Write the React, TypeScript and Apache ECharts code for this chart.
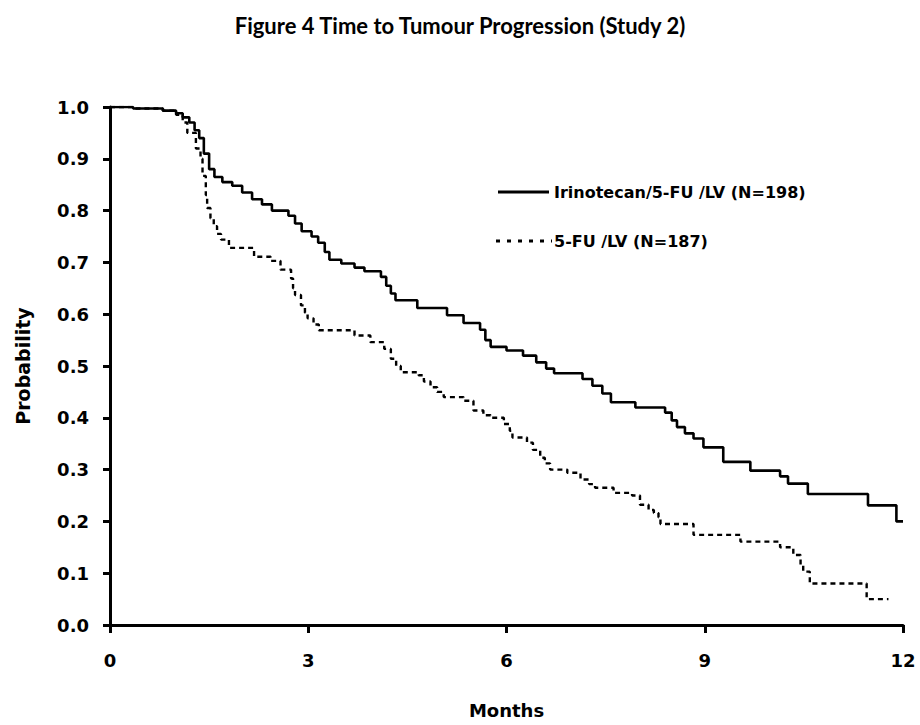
import React, { useEffect, useRef } from "react";
import * as echarts from "echarts";

const TITLE = "Figure 4 Time to Tumour Progression (Study 2)";
const X_NAME = "Months";
const Y_NAME = "Probability";
const SERIES_NAMES = ["Irinotecan/5-FU /LV (N=198)", "5-FU /LV (N=187)"];
const X_TICKS = [0, 3, 6, 9, 12];

// Kaplan-Meier step points [month, probability]
const irinotecan: [number, number][] = [
  [0, 1.0], [0.35, 0.997], [0.8, 0.993], [1.0, 0.988], [1.1, 0.98], [1.2, 0.97],
  [1.28, 0.955], [1.35, 0.94], [1.42, 0.91], [1.5, 0.88], [1.58, 0.865], [1.7, 0.855],
  [1.85, 0.848], [2.0, 0.835], [2.15, 0.822], [2.3, 0.812], [2.45, 0.8], [2.7, 0.79],
  [2.8, 0.775], [2.9, 0.76], [3.05, 0.75], [3.15, 0.738], [3.25, 0.72], [3.32, 0.705],
  [3.5, 0.698], [3.7, 0.69], [3.85, 0.683], [4.1, 0.672], [4.18, 0.655], [4.25, 0.64],
  [4.32, 0.627], [4.65, 0.612], [5.1, 0.598], [5.35, 0.583], [5.6, 0.57], [5.68, 0.55],
  [5.76, 0.537], [6.0, 0.53], [6.25, 0.52], [6.45, 0.507], [6.6, 0.495], [6.72, 0.486],
  [7.15, 0.475], [7.3, 0.462], [7.45, 0.447], [7.58, 0.43], [7.95, 0.42], [8.4, 0.41],
  [8.5, 0.395], [8.58, 0.382], [8.7, 0.37], [8.83, 0.36], [8.98, 0.343], [9.28, 0.315],
  [9.69, 0.298], [10.14, 0.287], [10.26, 0.273], [10.56, 0.253], [11.47, 0.231],
  [11.9, 0.2], [12.0, 0.2],
];

const fuLv: [number, number][] = [
  [0, 1.0], [0.35, 0.997], [0.8, 0.993], [1.0, 0.985], [1.1, 0.97], [1.17, 0.95],
  [1.3, 0.92], [1.37, 0.9], [1.4, 0.867], [1.45, 0.83], [1.47, 0.805], [1.52, 0.785],
  [1.57, 0.77], [1.62, 0.755], [1.68, 0.744], [1.8, 0.728], [2.18, 0.711], [2.43, 0.703],
  [2.58, 0.686], [2.74, 0.669], [2.77, 0.65], [2.8, 0.637], [2.89, 0.617], [2.95, 0.603],
  [2.99, 0.592], [3.08, 0.58], [3.16, 0.569], [3.7, 0.559], [3.94, 0.546], [4.15, 0.533],
  [4.25, 0.514], [4.33, 0.5], [4.4, 0.488], [4.67, 0.482], [4.75, 0.47], [4.85, 0.459],
  [4.95, 0.45], [5.05, 0.44], [5.35, 0.433], [5.5, 0.414], [5.65, 0.405], [5.76, 0.4],
  [5.96, 0.388], [6.05, 0.375], [6.09, 0.362], [6.31, 0.352], [6.4, 0.338], [6.51, 0.323],
  [6.58, 0.312], [6.66, 0.3], [6.92, 0.294], [7.12, 0.281], [7.25, 0.272], [7.34, 0.265],
  [7.62, 0.255], [7.9, 0.25], [8.02, 0.232], [8.15, 0.222], [8.23, 0.216], [8.3, 0.208],
  [8.33, 0.195], [8.83, 0.174], [9.54, 0.161], [10.14, 0.15], [10.34, 0.135],
  [10.45, 0.115], [10.49, 0.103], [10.59, 0.08], [11.45, 0.05], [11.78, 0.05],
];

const AXIS_FONT = "'DejaVu Sans', sans-serif";

export default function App() {
  const ref = useRef<HTMLDivElement>(null);

  useEffect(() => {
    if (!ref.current) return;
    const chart = echarts.init(ref.current, null, { renderer: "svg" });
    const axisLine = { show: true, lineStyle: { color: "#000", width: 3 } };
    chart.setOption({
      animation: false,
      backgroundColor: "#fff",
      title: {
        text: TITLE,
        left: "center",
        top: 9,
        textStyle: {
          fontFamily: "Lato, 'Open Sans', sans-serif",
          fontWeight: "bold",
          fontSize: 22,
          color: "#000",
        },
      },
      grid: { left: 110, right: 17, top: 107, bottom: 100, containLabel: false },
      xAxis: {
        type: "value",
        min: 0,
        max: 12,
        interval: 3,
        name: X_NAME,
        nameLocation: "middle",
        nameGap: 76,
        nameTextStyle: { fontFamily: AXIS_FONT, fontWeight: "bold", fontSize: 18, color: "#000" },
        axisLine,
        axisTick: { show: true, length: 8, lineStyle: { color: "#000", width: 3 } },
        axisLabel: {
          margin: 26,
          fontFamily: AXIS_FONT,
          fontWeight: "bold",
          fontSize: 18,
          color: "#000",
          formatter: (v: number) => (X_TICKS.includes(v) ? String(v) : ""),
        },
        splitLine: { show: false },
      },
      yAxis: {
        type: "value",
        min: 0,
        max: 1,
        interval: 0.1,
        name: Y_NAME,
        nameLocation: "middle",
        nameGap: 78,
        nameRotate: 90,
        nameTextStyle: { fontFamily: AXIS_FONT, fontWeight: "bold", fontSize: 19, color: "#000" },
        axisLine,
        axisTick: { show: true, length: 7, lineStyle: { color: "#000", width: 3 } },
        axisLabel: {
          margin: 21,
          fontFamily: AXIS_FONT,
          fontWeight: "bold",
          fontSize: 18,
          color: "#000",
          formatter: (v: number) => v.toFixed(1),
        },
        splitLine: { show: false },
      },
      series: [
        {
          name: SERIES_NAMES[0],
          type: "line",
          step: "end",
          data: irinotecan,
          symbol: "none",
          lineStyle: { color: "#000", width: 2.6 },
        },
        {
          name: SERIES_NAMES[1],
          type: "line",
          step: "end",
          data: fuLv,
          symbol: "none",
          lineStyle: { color: "#000", width: 2.4, type: [5, 4] },
        },
      ],
      graphic: [
        {
          type: "line",
          shape: { x1: 498, y1: 192, x2: 549, y2: 192 },
          style: { stroke: "#000", lineWidth: 3 },
        },
        {
          type: "text",
          x: 554,
          y: 192,
          style: {
            text: SERIES_NAMES[0],
            fontFamily: AXIS_FONT,
            fontWeight: "bold",
            fontSize: 16,
            fill: "#000",
            verticalAlign: "middle",
          },
        },
        {
          type: "line",
          shape: { x1: 496, y1: 241, x2: 552, y2: 241 },
          style: { stroke: "#000", lineWidth: 3, lineDash: [4, 7] },
        },
        {
          type: "text",
          x: 554,
          y: 241,
          style: {
            text: SERIES_NAMES[1],
            fontFamily: AXIS_FONT,
            fontWeight: "bold",
            fontSize: 16,
            fill: "#000",
            verticalAlign: "middle",
          },
        },
      ],
    });
    return () => chart.dispose();
  }, []);

  return (
    <div
      ref={ref}
      style={{ position: "fixed", left: 0, top: 0, width: 920, height: 725, background: "#fff" }}
    />
  );
}
